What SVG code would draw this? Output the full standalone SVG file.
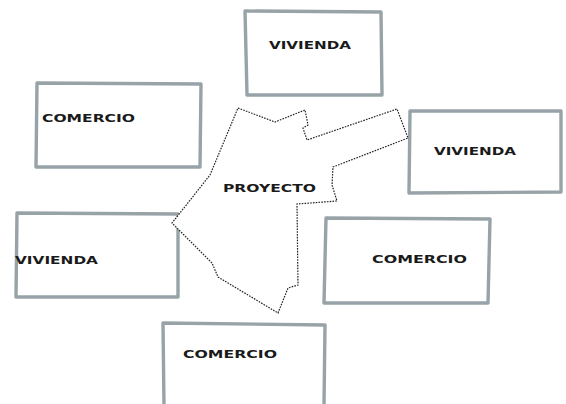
<svg xmlns="http://www.w3.org/2000/svg" width="566" height="404" viewBox="0 0 566 404">
<style>
.box{fill:#fff;stroke:#97a3a7;stroke-width:3.4;stroke-linecap:round;stroke-linejoin:round}
.lbl{font-family:"DejaVu Sans",sans-serif;font-weight:bold;font-size:10px;fill:#1a1a1a}
.site{fill:#fff;stroke:#222;stroke-width:1.2;stroke-dasharray:1.6 1.2}
</style>
<rect width="566" height="404" fill="#fff"/>
<g id="vivienda-top">
<path class="box" d="M245,11 L381,12 L382,95 L247,95 Z"/>
<text class="lbl" x="269" y="49" textLength="82" lengthAdjust="spacingAndGlyphs">VIVIENDA</text>
</g>
<g id="comercio-left">
<path class="box" d="M37,83 L201,84 L200,167 L36,167 Z"/>
<text class="lbl" x="42" y="122" textLength="93" lengthAdjust="spacingAndGlyphs">COMERCIO</text>
</g>
<g id="vivienda-right">
<path class="box" d="M410,111 L561,111 L561,192 L409,193 Z"/>
<text class="lbl" x="434" y="155" textLength="82" lengthAdjust="spacingAndGlyphs">VIVIENDA</text>
</g>
<g id="vivienda-left">
<path class="box" d="M17,213 L178,214 L178,297 L16,297 Z"/>
<text class="lbl" x="15" y="264" textLength="83" lengthAdjust="spacingAndGlyphs">VIVIENDA</text>
</g>
<g id="comercio-right">
<path class="box" d="M326,218 L490,219 L488,303 L324,303 Z"/>
<text class="lbl" x="372" y="263" textLength="95" lengthAdjust="spacingAndGlyphs">COMERCIO</text>
</g>
<g id="comercio-bottom">
<path class="box" d="M163,323 L325,325 L324,406 M163,323 L164,406"/>
<text class="lbl" x="183" y="358" textLength="94" lengthAdjust="spacingAndGlyphs">COMERCIO</text>
</g>
<g id="proyecto">
<path class="site" d="M238,108 L275,122 L305,110 L308,125 L303,128 L307,140 L397,109 L408,138 L333,167 L332,185 L337,201 L297,204 L298,285 L288,288 L278,313 L218,277 L212,263 L172,223 L210,175 Z"/>
<text class="lbl" x="223" y="192" textLength="93" lengthAdjust="spacingAndGlyphs">PROYECTO</text>
</g>
</svg>
